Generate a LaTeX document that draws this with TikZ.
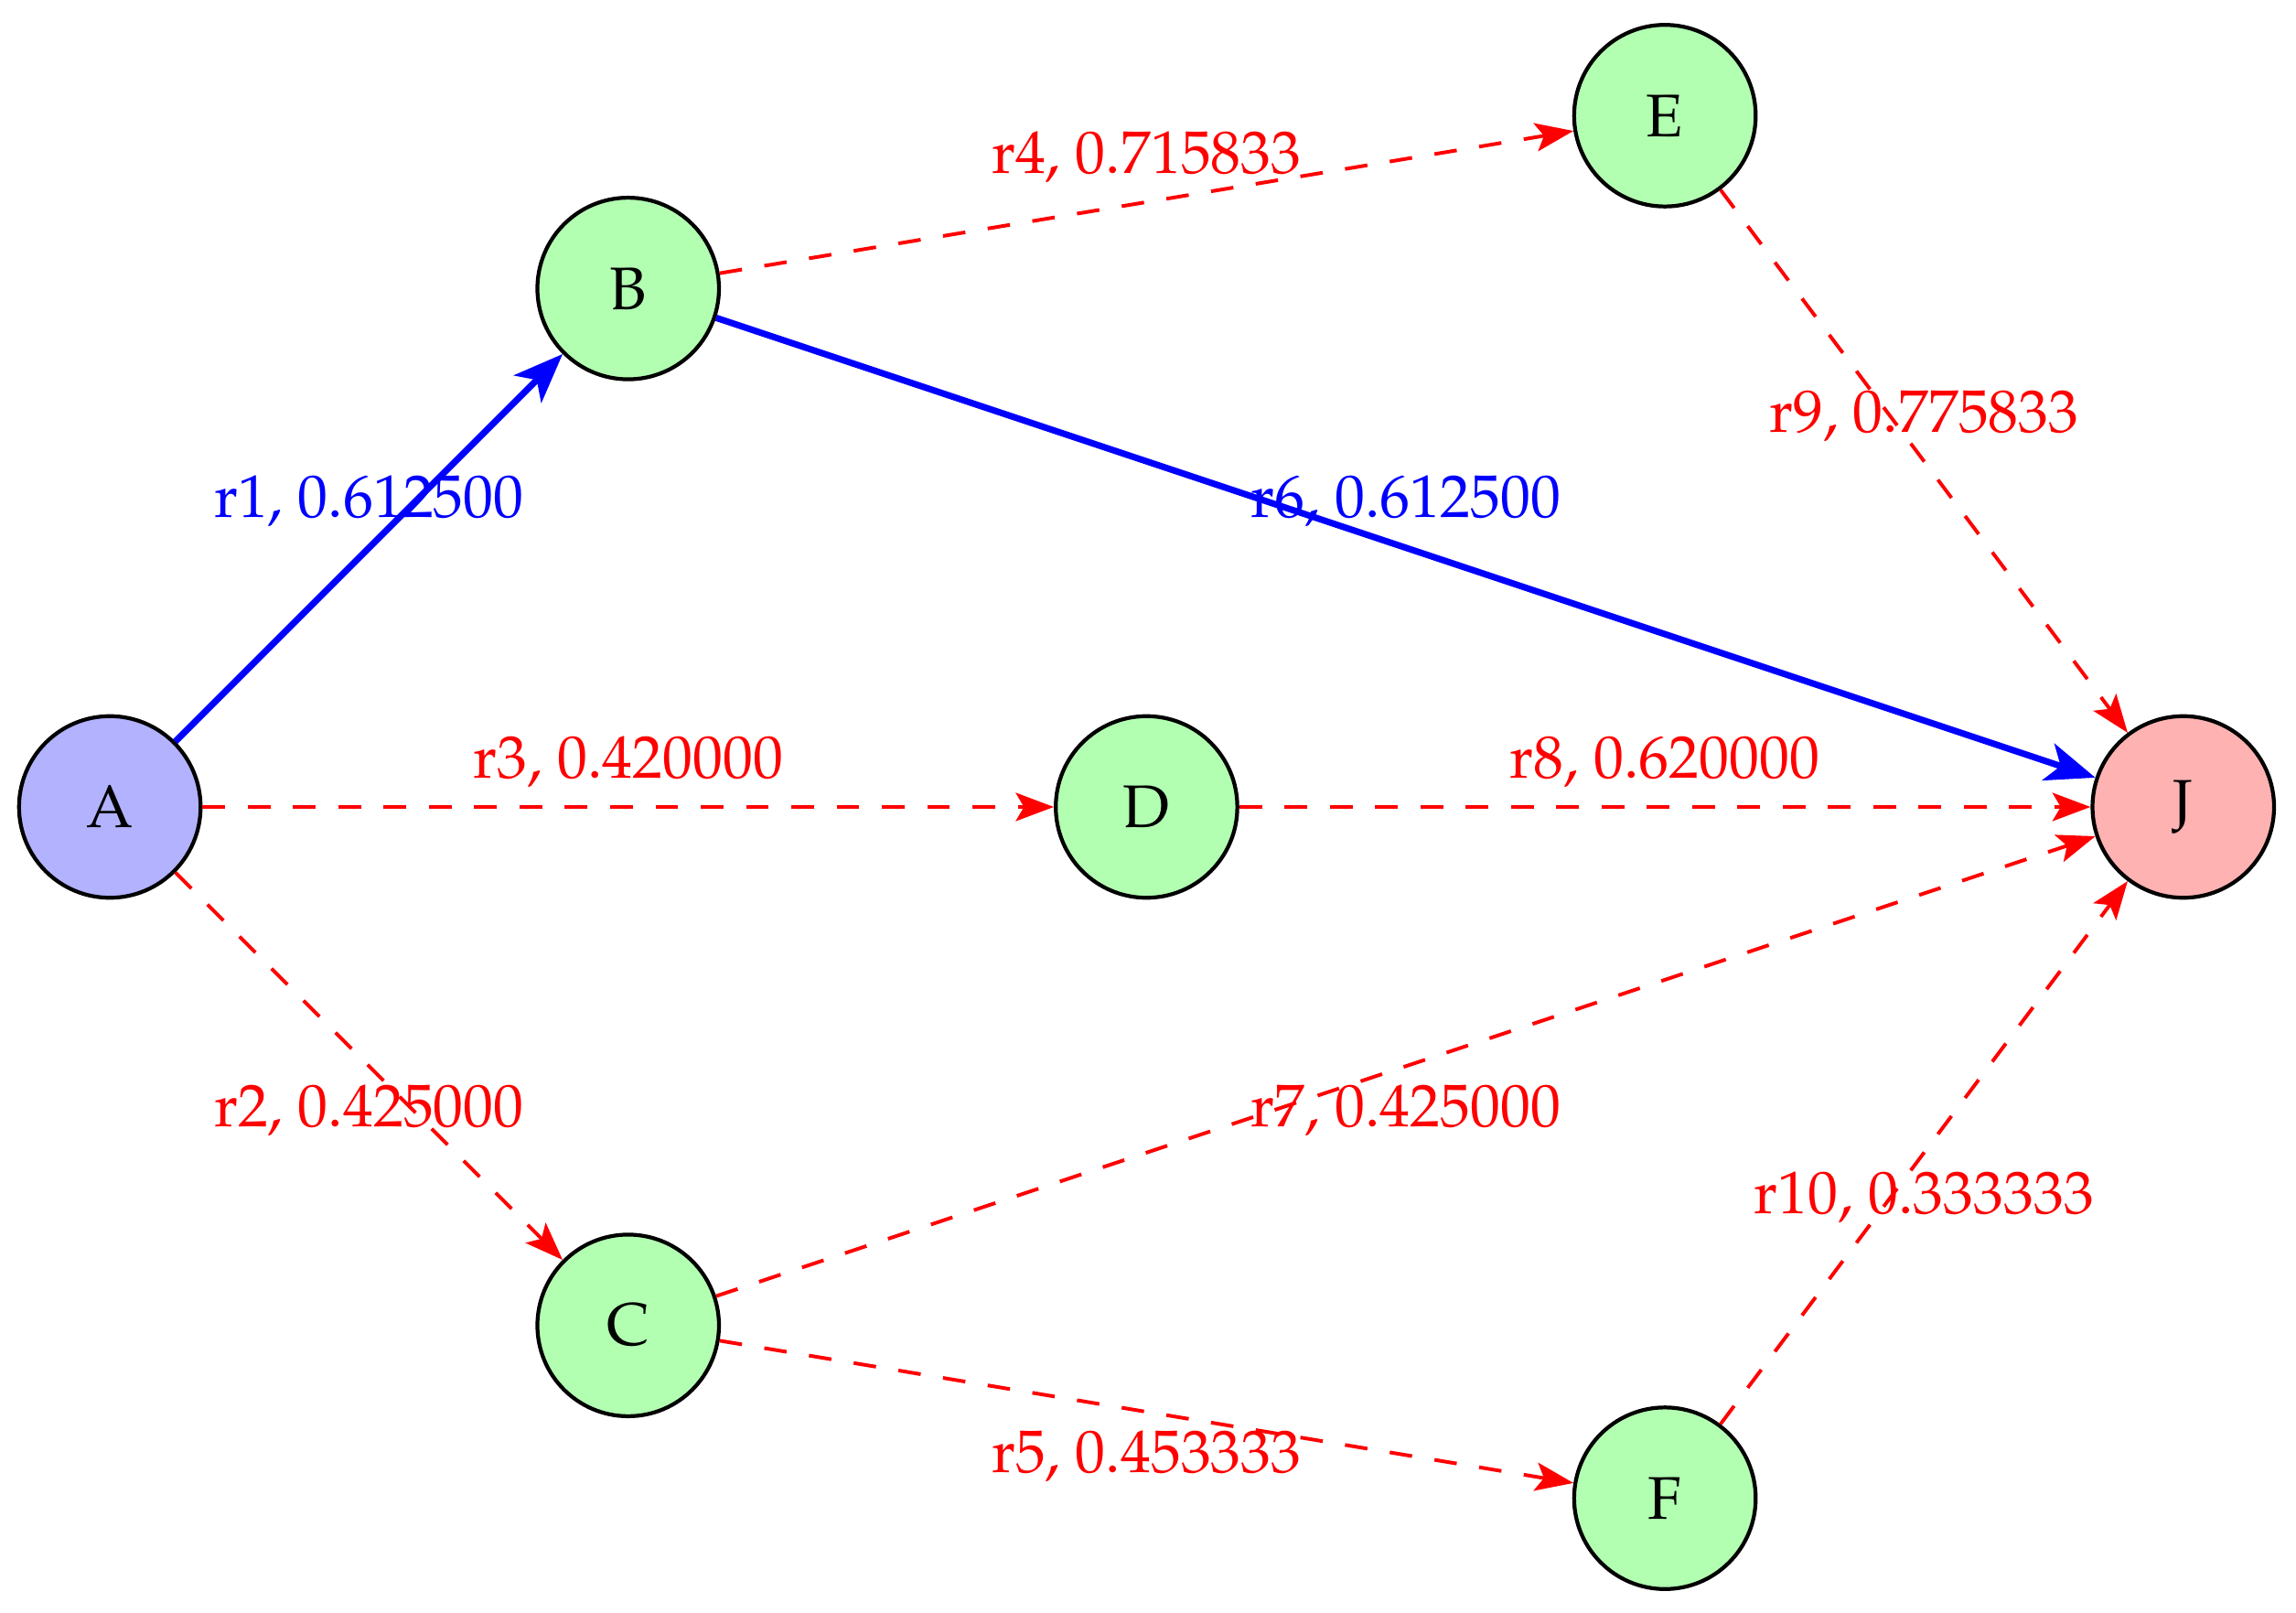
\documentclass[tikz,border=0pt]{standalone}
\usepackage[T1]{fontenc}
\usepackage{mathpazo}
\usetikzlibrary{arrows.meta}

\begin{document}
\begin{tikzpicture}[
        state/.style = {circle, draw = black, line width = 0.75pt, minimum size = 1.24cm, inner sep = 0pt, font = \fontsize{11.7}{14}\selectfont},
        best/.style = {blue, line width = 1.25pt, -{Stealth[length = 9.6pt, width = 7.5pt, inset = 2.5pt]}},
        other/.style = {red, line width = 0.7pt, dash pattern = on 4.4pt off 4.4pt, -{Stealth[length = 7.4pt, width = 5.5pt, inset = 1.6pt]}},
        rate/.style = {font = \fontsize{11.7}{14}\selectfont}
    ]
        \useasboundingbox (-0.75, -5.50) rectangle (14.93, 5.51);
        \node[state, fill = blue!30] (A) at (0, 0) {A};
        \node[state, fill = green!30] (B) at (3.54, 3.54) {B};
        \node[state, fill = green!30] (C) at (3.54, -3.54) {C};
        \node[state, fill = green!30] (D) at (7.08, 0) {D};
        \node[state, fill = green!30] (E) at (10.62, 4.72) {E};
        \node[state, fill = green!30] (F) at (10.62, -4.72) {F};
        \node[state, fill = red!30] (J) at (14.16, 0) {J};
        % best route
        \draw[best] (A) -- node[rate, above] {r1, 0.612500} (B);
        \draw[best] (B) -- node[rate, above] {r6, 0.612500} (J);
        % other routes
        \draw[other] (A) -- node[rate, below] {r2, 0.425000} (C);
        \draw[other] (A) -- node[rate, above] {r3, 0.420000} (D);
        \draw[other] (B) -- node[rate, above] {r4, 0.715833} (E);
        \draw[other] (C) -- node[rate, below] {r5, 0.453333} (F);
        \draw[other] (C) -- node[rate, below] {r7, 0.425000} (J);
        \draw[other] (D) -- node[rate, above] {r8, 0.620000} (J);
        \draw[other] (E) -- node[rate, above] {r9, 0.775833} (J);
        \draw[other] (F) -- node[rate, below] {r10, 0.333333} (J);
    \end{tikzpicture}
\end{document}
